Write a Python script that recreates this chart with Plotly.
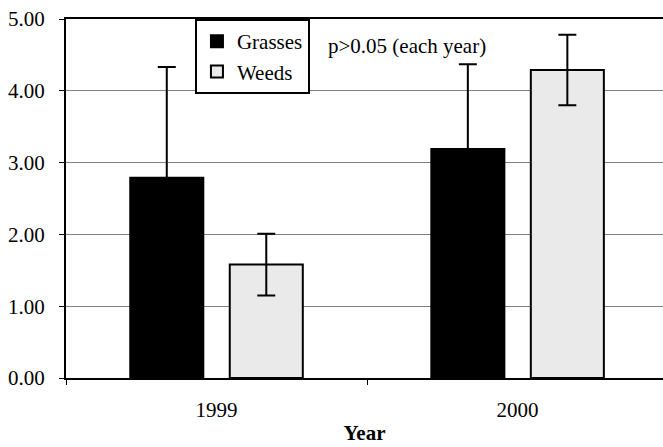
import plotly.graph_objects as go

categories = ["1999", "2000"]
grasses = [2.79, 3.19]
grasses_err = [1.54, 1.18]
weeds = [1.58, 4.29]
weeds_err = [0.43, 0.49]
y_ticks = [0, 1, 2, 3, 4, 5]
note_text = "p>0.05 (each year)"

FONT = "Liberation Serif, Times New Roman, serif"

fig = go.Figure()
fig.add_trace(go.Bar(
    name="Grasses", x=categories, y=grasses,
    marker=dict(color="black", line=dict(color="black", width=2)),
    error_y=dict(type="data", array=grasses_err, visible=True,
                 color="black", thickness=2, width=9),
))
fig.add_trace(go.Bar(
    name="Weeds", x=categories, y=weeds,
    marker=dict(color="#eaeaea", line=dict(color="black", width=2)),
    error_y=dict(type="data", array=weeds_err, visible=True,
                 color="black", thickness=2, width=9),
))

fig.add_annotation(
    text=note_text, xref="paper", yref="paper",
    x=0.435, y=0.925, xanchor="left", yanchor="middle",
    showarrow=False, font=dict(family=FONT, size=21, color="black"),
)

fig.update_layout(
    width=663, height=447,
    margin=dict(l=66, r=0, t=19, b=69, autoexpand=False),
    paper_bgcolor="white", plot_bgcolor="white",
    barmode="group", bargap=0.339, bargroupgap=0.266,
    font=dict(family=FONT, size=21, color="black"),
    showlegend=True,
    legend=dict(
        x=0.216, y=1.0, xanchor="left", yanchor="top",
        bgcolor="white", bordercolor="black", borderwidth=2,
        font=dict(family=FONT, size=21, color="black"),
        traceorder="normal", itemwidth=30, tracegroupgap=0,
    ),
    xaxis=dict(
        type="category", range=[-0.5, 1.483], automargin=False,
        showline=True, linecolor="black", linewidth=2, mirror=True,
        ticks="outside", tickson="boundaries", ticklen=5, tickcolor="black",
        showgrid=False, ticklabelstandoff=12,
        title=dict(text="<b>Year</b>", font=dict(family=FONT, size=21), standoff=4),
    ),
    yaxis=dict(
        range=[0, 5], tickvals=y_ticks, tickformat=".2f", automargin=False,
        showline=True, linecolor="black", linewidth=2,
        ticks="outside", ticklen=5, tickcolor="black",
        showgrid=True, gridcolor="#808080", gridwidth=1,
        zeroline=False, ticklabelstandoff=10,
    ),
)

fig.write_html(
    "out.html",
    config={"displayModeBar": False},
    post_script="document.body.style.margin='0';document.body.style.padding='0';",
)
